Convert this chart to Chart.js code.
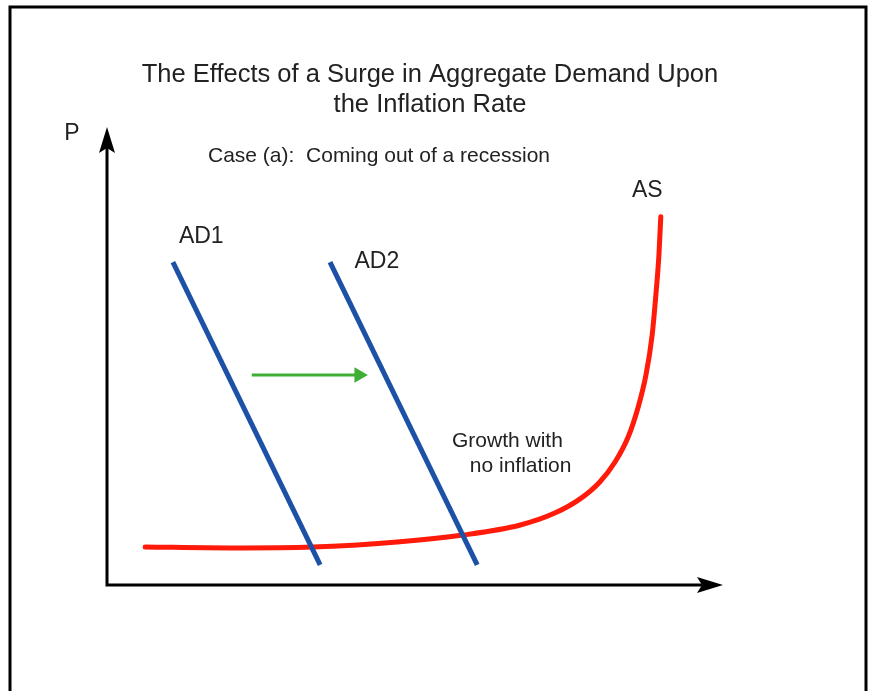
<!doctype html>
<html lang="en">
<head>
  <meta charset="utf-8">
  <title>The Effects of a Surge in Aggregate Demand Upon the Inflation Rate</title>
  <style>
    * {
      margin: 0;
      padding: 0;
    }

    body {
      background: #fff;
    }

    .chart-container {
      position: absolute;
      top: 0;
      left: 0;
      width: 877px;
      height: 691px;
    }
  </style>
</head>
<body>
  <div class="chart-container">
    <canvas id="myChart"></canvas>
  </div>

  <script src="https://cdn.jsdelivr.net/npm/chart.js"></script>
  <script>
    // axis ranges (output Q across, price level P up)
    const qRange = [0, 100];
    const pRange = [0, 100];

    // aggregate demand before and after the surge
    const ad1Q = [10.7, 34.6];
    const ad1P = [70.5, 4.4];
    const ad2Q = [36.2, 60.1];
    const ad2P = [70.5, 4.4];

    // aggregate supply curve
    const asQ = [6.2, 20.0, 33.4, 47.1, 57.8, 67.1, 72.7, 76.8, 80.0, 82.5, 84.6, 86.2, 87.5, 88.5, 89.1, 89.6, 89.9];
    const asP = [8.3, 8.1, 8.3, 9.4, 10.9, 13.1, 15.7, 18.8, 22.5, 26.9, 32.3, 38.7, 45.9, 54.6, 63.3, 72.1, 80.4];

    // shift arrow
    const shiftQ = [23.5, 40.9];
    const shiftP = [45.85, 45.85];

    // text labels placed in data units
    const labelText = ['AD1', 'AD2', 'AS', 'Growth with', 'no inflation', 'P'];
    const labelQ = [15.3, 43.8, 87.7, 56.0, 58.9, -5.7];
    const labelP = [76.0, 70.6, 86.0, 31.4, 26.0, 98.5];
    const labelAlign = ['center', 'center', 'center', 'left', 'left', 'center'];

    const titleLines = ['The Effects of a Surge in Aggregate Demand Upon', 'the Inflation Rate'];
    const subTitle = 'Case (a):  Coming out of a recession';

    const pts = (xs, ys) => xs.map((x, i) => ({ x: x, y: ys[i] }));

    const FONT = '"Liberation Sans", Arial, sans-serif';
    const TEXT = '#222';

    const decor = {
      id: 'decor',
      beforeDraw(chart) {
        const ctx = chart.ctx;
        const a = chart.chartArea;
        ctx.save();
        ctx.fillStyle = '#fff';
        ctx.fillRect(0, 0, chart.width, chart.height);
        // frame
        ctx.strokeStyle = '#000';
        ctx.lineWidth = 3;
        ctx.strokeRect(10, 7, 856, 700);

        // axes with arrow heads
        const x0 = chart.scales.x.getPixelForValue(qRange[0]);
        const y0 = chart.scales.y.getPixelForValue(pRange[0]);
        ctx.lineWidth = 3;
        ctx.beginPath();
        ctx.moveTo(x0, a.top + 20);
        ctx.lineTo(x0, y0);
        ctx.lineTo(a.right - 20, y0);
        ctx.stroke();
        ctx.fillStyle = '#000';
        ctx.beginPath();
        ctx.moveTo(x0, a.top);
        ctx.lineTo(x0 - 8, a.top + 26);
        ctx.lineTo(x0, a.top + 21);
        ctx.lineTo(x0 + 8, a.top + 26);
        ctx.closePath();
        ctx.fill();
        ctx.beginPath();
        ctx.moveTo(a.right, y0);
        ctx.lineTo(a.right - 26, y0 - 8);
        ctx.lineTo(a.right - 21, y0);
        ctx.lineTo(a.right - 26, y0 + 8);
        ctx.closePath();
        ctx.fill();

        // titles
        ctx.fillStyle = TEXT;
        ctx.textAlign = 'center';
        ctx.textBaseline = 'middle';
        ctx.font = '25.5px ' + FONT;
        ctx.fillText(titleLines[0], 430, 75);
        ctx.fillText(titleLines[1], 430, 105);
        ctx.font = '21px ' + FONT;
        ctx.fillText(subTitle, 379, 156);
        ctx.restore();
      },
      afterDatasetsDraw(chart) {
        const ctx = chart.ctx;
        const sx = chart.scales.x;
        const sy = chart.scales.y;
        ctx.save();
        ctx.fillStyle = TEXT;
        ctx.textBaseline = 'middle';
        labelText.forEach((t, i) => {
          const big = t.length <= 3;
          ctx.font = (big ? '23px ' : '21px ') + FONT;
          ctx.textAlign = labelAlign[i];
          ctx.fillText(t, sx.getPixelForValue(labelQ[i]), sy.getPixelForValue(labelP[i]));
        });
        ctx.restore();
      }
    };

    const data = {
      datasets: [
        {
          label: 'AD1',
          data: pts(ad1Q, ad1P),
          borderColor: '#1c51a6',
          borderWidth: 5,
          pointRadius: 0,
          borderCapStyle: 'butt'
        },
        {
          label: 'AD2',
          data: pts(ad2Q, ad2P),
          borderColor: '#1c51a6',
          borderWidth: 5,
          pointRadius: 0,
          borderCapStyle: 'butt'
        },
        {
          label: 'shift',
          data: pts(shiftQ, shiftP),
          borderColor: '#3fae35',
          backgroundColor: '#3fae35',
          borderWidth: 3,
          pointStyle: 'triangle',
          pointRadius: [0, 9],
          pointBorderWidth: 0,
          pointRotation: 90
        },
        {
          label: 'AS',
          data: pts(asQ, asP),
          borderColor: '#ff1a0a',
          borderWidth: 5,
          pointRadius: 0,
          cubicInterpolationMode: 'monotone',
          borderCapStyle: 'round'
        }
      ]
    };

    const config = {
      type: 'line',
      data,
      options: {
        responsive: true,
        maintainAspectRatio: false,
        animation: false,
        layout: {
          padding: { left: 107, right: 154, top: 127, bottom: 106 }
        },
        scales: {
          x: { type: 'linear', min: qRange[0], max: qRange[1], display: false },
          y: { type: 'linear', min: pRange[0], max: pRange[1], display: false }
        },
        plugins: {
          legend: { display: false },
          tooltip: { enabled: false }
        }
      },
      plugins: [decor]
    };

    const myChart = new Chart(document.getElementById('myChart'), config);
  </script>
</body>
</html>
